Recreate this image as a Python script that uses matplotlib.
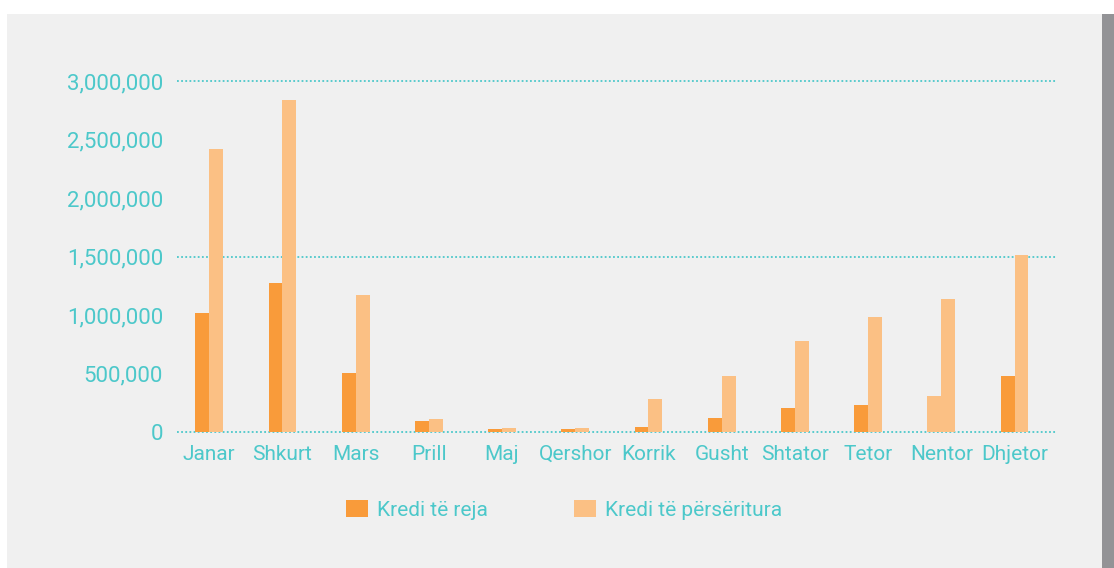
import numpy as np
import matplotlib.pyplot as plt
from matplotlib.patches import Rectangle, Patch

months = ["Janar", "Shkurt", "Mars", "Prill", "Maj", "Qershor", "Korrik",
          "Gusht", "Shtator", "Tetor", "Nentor", "Dhjetor"]
kredi_reja = [1020000, 1275000, 506000, 94000, 26000, 26000, 43000,
              120000, 205000, 231000, 307000, 478000]
kredi_perseritura = [2419000, 2838000, 1172000, 111000, 34000, 34000, 282000,
                     479000, 777000, 982000, 1136000, 1513000]
yticks = [0, 500000, 1000000, 1500000, 2000000, 2500000, 3000000]
grid_values = [0, 1500000, 3000000]

teal = "#4cc8ca"
dark = "#f99b3a"
light = "#fbc084"

plt.rcParams['font.family'] = ['Roboto', 'DejaVu Sans']

fig = plt.figure(figsize=(11.14, 5.68), dpi=100, facecolor="white")
fig.patches.append(Rectangle((7 / 1114, 0), 1095 / 1114, 554 / 568,
                             transform=fig.transFigure, facecolor="#f0f0f0",
                             edgecolor="none", zorder=-10))
fig.patches.append(Rectangle((1102 / 1114, 0), 12 / 1114, 554 / 568,
                             transform=fig.transFigure, facecolor="#939396",
                             edgecolor="none", zorder=-10))

ax = fig.add_axes([177 / 1114, 136 / 568, 880 / 1114, 351 / 568])
ax.set_facecolor("none")

x = np.arange(len(months))
w = 0.19
dark_colors = [dark] * len(months)
dark_colors[months.index("Nentor")] = light  # same colour as the second series in the source
ax.bar(x - w / 2, kredi_reja, width=w, color=dark_colors, zorder=3)
ax.bar(x + w / 2, kredi_perseritura, width=w, color=light, zorder=3)

for g in grid_values:
    ax.axhline(g, color=teal, lw=1.3, linestyle=(0, (1, 1.3)), zorder=2, clip_on=False)

ax.set_ylim(0, 3000000)
ax.set_xlim(-0.44, 11.58)
ax.set_yticks(yticks)
ax.set_yticklabels(["{:,}".format(v) for v in yticks])
ax.set_xticks(x)
ax.set_xticklabels(months)
ax.tick_params(axis="both", length=0, colors=teal)
ax.tick_params(axis="y", pad=10, labelsize=16)
ax.tick_params(axis="x", pad=9, labelsize=15)
for s in ax.spines.values():
    s.set_visible(False)

handles = [Patch(facecolor=dark, edgecolor="none"), Patch(facecolor=light, edgecolor="none")]
leg = fig.legend(handles, ["Kredi të reja", "Kredi të përsëritura"],
                 loc="center left", bbox_to_anchor=(346 / 1114, 1 - 510 / 568),
                 ncol=2, frameon=False, fontsize=15, handlelength=1.06,
                 handleheight=0.87, handletextpad=0.45, columnspacing=4.1,
                 borderpad=0, borderaxespad=0)
for t in leg.get_texts():
    t.set_color(teal)

fig.savefig("out.png", dpi=100, facecolor="white")
